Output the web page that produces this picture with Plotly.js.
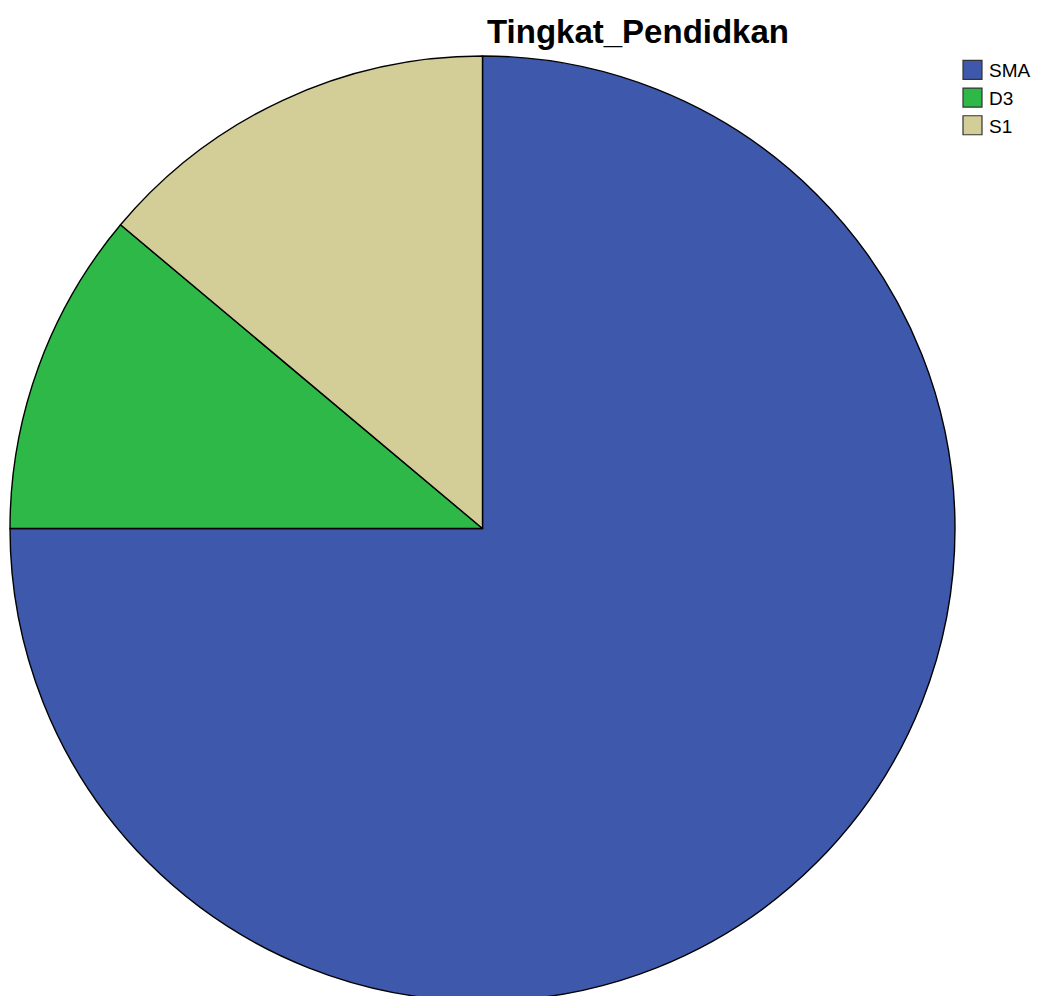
<!DOCTYPE html>
<html>
<head>
<meta charset="utf-8">
<script src="https://cdn.plot.ly/plotly-3.0.1.min.js"></script>
<style>
html,body{margin:0;padding:0;background:#fff;overflow:hidden;}
#chart{width:1040px;height:1010px;}
</style>
</head>
<body>
<div id="chart"></div>
<script>
const categories = ["SMA", "D3", "S1"];
const counts = [27, 4, 5];
const colors = ["#3E58AC", "#2EB848", "#D3CE97"];
const chartTitle = "Tingkat_Pendidkan";

const W = 1040, H = 1010;
const trace = {
  type: "pie",
  labels: categories,
  values: counts,
  sort: false,
  direction: "clockwise",
  rotation: 0,
  textinfo: "none",
  hoverinfo: "label+value+percent",
  marker: { colors: colors, line: { color: "#000000", width: 1.4 } },
  domain: { x: [10 / W, 955 / W], y: [1 - 1001 / H, 1 - 56 / H] }
};

const layout = {
  width: W,
  height: H,
  margin: { l: 0, r: 0, t: 0, b: 0, pad: 0 },
  paper_bgcolor: "#ffffff",
  title: {
    text: chartTitle,
    font: { family: "Liberation Sans, Arial, sans-serif", size: 33, color: "#000000", weight: "bold" },
    x: 638 / W, xref: "paper", xanchor: "center",
    y: 1 - 31 / H, yref: "paper", yanchor: "middle"
  },
  showlegend: true,
  legend: {
    x: 949 / W, xanchor: "left",
    y: 1 - 51 / H, yanchor: "top",
    font: { family: "Liberation Sans, Arial, sans-serif", size: 19, color: "#000000" },
    bgcolor: "rgba(0,0,0,0)",
    borderwidth: 0,
    traceorder: "normal"
  }
};

Plotly.newPlot("chart", [trace], layout, { displayModeBar: false, staticPlot: true }).then(function (gd) {
  // enlarge the legend swatches to match the reference's bigger boxes
  gd.querySelectorAll(".legend .legendpoints path").forEach(function (p) {
    p.setAttribute("d", "M13,9.5H-6V-9.5H13Z");
    p.style.strokeWidth = "1.2px";
    p.style.stroke = "#333333";
  });
});
</script>
</body>
</html>
